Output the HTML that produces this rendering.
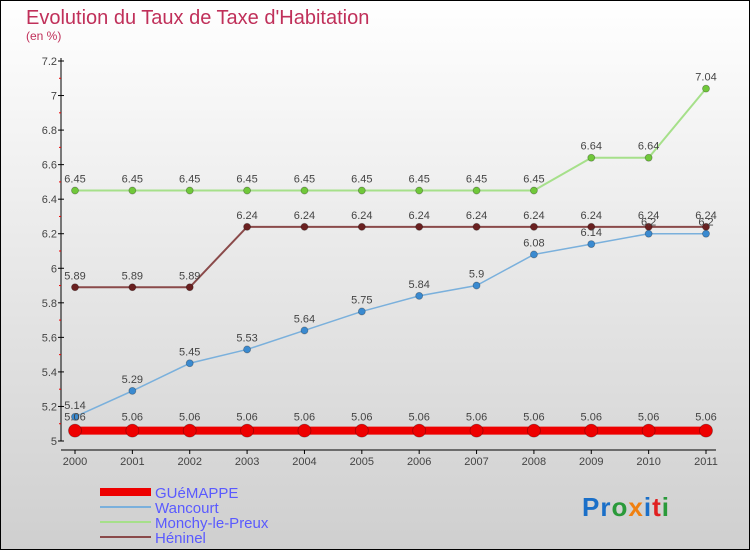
<!DOCTYPE html>
<html><head><meta charset="utf-8">
<style>
html,body{margin:0;padding:0;}
body{width:750px;height:550px;overflow:hidden;font-family:"Liberation Sans",sans-serif;}
</style></head>
<body>
<svg id="chart" width="750" height="550" xmlns="http://www.w3.org/2000/svg" style="display:block">
<defs>
<linearGradient id="bg" x1="0" y1="0" x2="0" y2="1">
<stop offset="0" stop-color="#ffffff"/><stop offset="1" stop-color="#cfcfcf"/>
</linearGradient>
</defs>
<rect x="0.5" y="0.5" width="749" height="549" fill="url(#bg)" stroke="#000" stroke-width="1"/>
<text x="26" y="24" font-size="20" fill="#c0305a">Evolution du Taux de Taxe d'Habitation</text>
<text x="26" y="40" font-size="12" fill="#c0305a">(en %)</text>
<g id="axes"></g>
<g id="series"></g>
<g id="legend"></g>
<text x="582" y="516" font-size="26" font-weight="bold" letter-spacing="1"><tspan fill="#1a6fc8">Pr</tspan><tspan fill="#2a9a3a">o</tspan><tspan fill="#f08010">x</tspan><tspan fill="#1a6fc8">i</tspan><tspan fill="#e02020">t</tspan><tspan fill="#2a9a3a">i</tspan></text>
</svg>
<script>
const years = [2000,2001,2002,2003,2004,2005,2006,2007,2008,2009,2010,2011];
const gue = [5.06,5.06,5.06,5.06,5.06,5.06,5.06,5.06,5.06,5.06,5.06,5.06];
const wancourt = [5.14,5.29,5.45,5.53,5.64,5.75,5.84,5.9,6.08,6.14,6.2,6.2];
const monchy = [6.45,6.45,6.45,6.45,6.45,6.45,6.45,6.45,6.45,6.64,6.64,7.04];
const heninel = [5.89,5.89,5.89,6.24,6.24,6.24,6.24,6.24,6.24,6.24,6.24,6.24];
const yTicks = [5,5.2,5.4,5.6,5.8,6,6.2,6.4,6.6,6.8,7,7.2];
const yTickLabels = ["5","5.2","5.4","5.6","5.8","6","6.2","6.4","6.6","6.8","7","7.2"];

const NS="http://www.w3.org/2000/svg";
const x = i => 75 + i*(706-75)/11;
const y = v => 441 - (v-5)*(380/2.2);
function mk(tag, attrs, parent){const e=document.createElementNS(NS,tag);for(const k in attrs)e.setAttribute(k,attrs[k]);parent.appendChild(e);return e;}
const axes=document.getElementById('axes');
let yl=mk('line',{x1:61,y1:58,x2:61,y2:441,stroke:'#000','stroke-width':1},axes);


yTicks.forEach((t,i)=>{
  const tk=mk('line',{x1:58,x2:64,y1:y(t),y2:y(t),stroke:'#000'},axes);
  
  
  const lb=mk('text',{x:57,y:y(t)+4,'text-anchor':'end','font-size':11,fill:'#444'},axes);
  lb.textContent=yTickLabels[i];
  
  
  if(i<yTicks.length-1){
    const m=mk('line',{x1:59,x2:61,y1:y(t+0.1),y2:y(t+0.1),stroke:'#e00'},axes);
    
    
  }
});
let xl=mk('line',{x1:61,y1:450,x2:716,y2:450,stroke:'#000'},axes);


years.forEach((yr,i)=>{
  const tk=mk('line',{x1:x(i),x2:x(i),y1:450,y2:454,stroke:'#000'},axes);
  
  
  const lb=mk('text',{x:x(i),y:465,'text-anchor':'middle','font-size':11,fill:'#444'},axes);
  lb.textContent=yr;
  
  
});
const ser=document.getElementById('series');
function draw(name,vals,color,dot,w,r){
  const g=mk('g',{},ser);
  
  
  const pl=mk('polyline',{points:vals.map((v,i)=>x(i)+','+y(v)).join(' '),fill:'none',stroke:color,'stroke-width':w},g);
  
  
  vals.forEach((v,i)=>{
    const c=mk('circle',{cx:x(i),cy:y(v),r:r,fill:dot,stroke:'rgba(0,0,0,0.3)','stroke-width':0.8},g);
    
    
    const t=mk('text',{x:x(i),y:y(v)-8-(r>5?2:0),'text-anchor':'middle','font-size':11,fill:'#444'},g);
    t.textContent=String(v);
    
    
  });
}
draw('monchy',monchy,'#a6e08a','#70c83a',2,3.5);
draw('heninel',heninel,'#8a4a4a','#6a2020',2,3.5);
draw('wancourt',wancourt,'#7ab0dc','#3a8ad0',1.5,3.5);
draw('guemappe',gue,'#ee0000','#ee0000',8,6.5);
const leg=document.getElementById('legend');
const items=[['GUéMAPPE','#ee0000',8],['Wancourt','#7ab0dc',2],['Monchy-le-Preux','#a6e08a',2],['Héninel','#8a4a4a',2]];
items.forEach((it,i)=>{
  const yy=492+i*15;
  const g=mk('g',{},leg);
  
  
  const l=mk('line',{x1:100,x2:151,y1:yy,y2:yy,stroke:it[1],'stroke-width':it[2]},g);
  
  
  const t=mk('text',{x:155,y:yy+6,'font-size':15,fill:'#5a5aff'},g);
  t.textContent=it[0];
  
  
});
</script>
</body></html>
